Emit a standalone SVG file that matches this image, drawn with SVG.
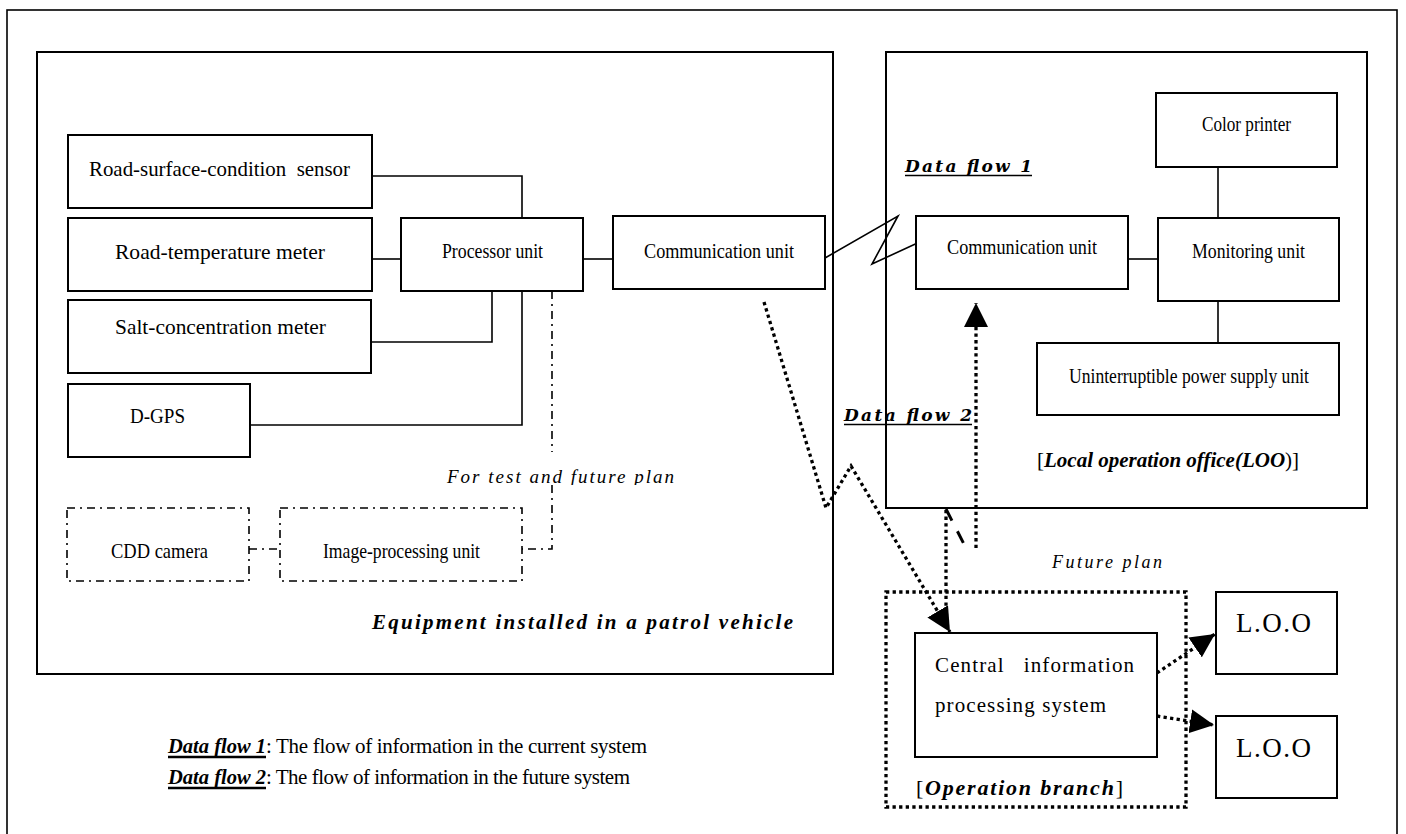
<svg xmlns="http://www.w3.org/2000/svg" width="1406" height="834" viewBox="0 0 1406 834" xml:space="preserve">
<style>
text{white-space:pre}
.box{fill:#fff;stroke:#000;stroke-width:2}
.frame{fill:none;stroke:#000;stroke-width:1.6}
.test{fill:#fff;stroke:#000;stroke-width:1.6;stroke-dasharray:8 5 2 5}
.ln{fill:none;stroke:#000;stroke-width:1.6}
.dd{fill:none;stroke:#000;stroke-width:1.6;stroke-dasharray:8 5 2 5}
.dot{fill:none;stroke:#000;stroke-width:3.3;stroke-dasharray:3.3 3.3}
.lbl{font-family:"Liberation Serif",serif;font-size:22px;fill:#000}
.bi{font-family:"Liberation Serif",serif;font-weight:bold;font-style:italic;fill:#000}
.it{font-family:"Liberation Serif",serif;font-style:italic;fill:#000}
.df{font-family:"DejaVu Serif",serif;font-weight:bold;font-style:italic;font-size:17px;fill:#000}
.tx{font-family:"Liberation Serif",serif;fill:#000}
</style>
<defs>
<marker id="ah" markerUnits="userSpaceOnUse" markerWidth="24" markerHeight="24" refX="24" refY="12" orient="auto" viewBox="0 0 24 24"><path d="M0,0 L24,12 L0,24 z" fill="#000"/></marker>
<clipPath id="clipFT"><rect x="440" y="460" width="250" height="25"/></clipPath>
</defs>
<rect id="outer-frame" class="frame" x="7" y="10" width="1390" height="840"/>
<g id="vehicle">
<rect class="box" x="37" y="52" width="796" height="622"/>
<text class="bi" x="372" y="629" font-size="21" textLength="421" lengthAdjust="spacing">Equipment installed in a patrol vehicle</text>
</g>
<g id="loo">
<rect class="box" x="886" y="52" width="481" height="456"/>
<text class="tx" x="1037" y="467" font-size="21">[<tspan class="bi">Local operation office(LOO</tspan>)]</text>
</g>
<g id="connectors">
<path class="ln" d="M372,176 H522 V218"/>
<path class="ln" d="M372,259 H401"/>
<path class="ln" d="M583,259 H613"/>
<path class="ln" d="M371,342 H492 V291"/>
<path class="ln" d="M250,425 H522 V291"/>
<path class="dd" d="M552,291 V452"/>
<path class="dd" d="M552,485 V549 H522"/>
<path class="dd" d="M249,549 H280"/>
<path class="ln" d="M825,258 L898,216 L872,264 L924,240"/>
<path class="ln" d="M1128,259 H1158"/>
<path class="ln" d="M1218,167 V218"/>
<path class="ln" d="M1218,301 V343"/>
<path class="dot" d="M764,302 L826,508 L851,466 L950,632" marker-end="url(#ah)"/>
<path class="dot" d="M946,510 V607"/>
<path fill="none" stroke="#000" stroke-width="3" stroke-dasharray="13 12" d="M946,509 L966,548"/>
<path class="dot" d="M976,548 V303" marker-end="url(#ah)"/>
<path class="dot" d="M1157,673 L1215,634" marker-end="url(#ah)"/>
<path class="dot" d="M1157,716 L1214,725" marker-end="url(#ah)"/>
</g>
<g id="sensor-road-surface">
<rect class="box" x="68" y="135" width="304" height="73"/>
<text class="lbl" x="89" y="176" textLength="261" lengthAdjust="spacingAndGlyphs">Road-surface-condition  sensor</text>
</g>
<g id="sensor-road-temp">
<rect class="box" x="68" y="218" width="304" height="73"/>
<text class="lbl" x="115" y="259" textLength="210" lengthAdjust="spacingAndGlyphs">Road-temperature meter</text>
</g>
<g id="sensor-salt">
<rect class="box" x="68" y="300" width="303" height="73"/>
<text class="lbl" x="115" y="334" textLength="211" lengthAdjust="spacingAndGlyphs">Salt-concentration meter</text>
</g>
<g id="dgps">
<rect class="box" x="68" y="384" width="182" height="73"/>
<text class="lbl" x="130" y="423" textLength="55" lengthAdjust="spacingAndGlyphs">D-GPS</text>
</g>
<g id="processor">
<rect class="box" x="401" y="218" width="182" height="73"/>
<text class="lbl" x="442" y="258" textLength="101" lengthAdjust="spacingAndGlyphs">Processor unit</text>
</g>
<g id="comm-vehicle">
<rect class="box" x="613" y="216" width="212" height="73"/>
<text class="lbl" x="644" y="258" textLength="150" lengthAdjust="spacingAndGlyphs">Communication unit</text>
</g>
<g id="cdd-camera">
<rect class="test" x="67" y="508" width="182" height="73"/>
<text class="lbl" x="111" y="558" textLength="97" lengthAdjust="spacingAndGlyphs">CDD camera</text>
</g>
<g id="image-processing">
<rect class="test" x="280" y="508" width="242" height="73"/>
<text class="lbl" x="323" y="558" textLength="157" lengthAdjust="spacingAndGlyphs">Image-processing unit</text>
</g>
<text class="it" x="447" y="483" font-size="19" textLength="227" lengthAdjust="spacing" clip-path="url(#clipFT)">For test and future plan</text>
<g id="comm-loo">
<rect class="box" x="916" y="216" width="212" height="73"/>
<text class="lbl" x="947" y="254" textLength="150" lengthAdjust="spacingAndGlyphs">Communication unit</text>
</g>
<g id="monitoring">
<rect class="box" x="1158" y="218" width="181" height="83"/>
<text class="lbl" x="1192" y="258" textLength="113" lengthAdjust="spacingAndGlyphs">Monitoring unit</text>
</g>
<g id="color-printer">
<rect class="box" x="1156" y="93" width="181" height="74"/>
<text class="lbl" x="1202" y="131" textLength="89" lengthAdjust="spacingAndGlyphs">Color printer</text>
</g>
<g id="ups">
<rect class="box" x="1037" y="343" width="302" height="72"/>
<text class="lbl" x="1069" y="383" textLength="240" lengthAdjust="spacingAndGlyphs">Uninterruptible power supply unit</text>
</g>
<g id="label-df1">
<text class="df" x="905" y="172" textLength="127" lengthAdjust="spacing">Data flow 1</text>
<line x1="905" y1="175.5" x2="1032" y2="175.5" stroke="#000" stroke-width="1.5"/>
</g>
<g id="label-df2">
<text class="df" x="844" y="421" textLength="128" lengthAdjust="spacing">Data flow 2</text>
<line x1="844" y1="424.5" x2="972" y2="424.5" stroke="#000" stroke-width="1.5"/>
</g>
<g id="operation-branch">
<text class="it" x="1052" y="568" font-size="18" textLength="110" lengthAdjust="spacing">Future plan</text>
<rect class="dot" x="886" y="592" width="300" height="215"/>
<text class="tx" x="916" y="795" font-size="22" textLength="207" lengthAdjust="spacing">[<tspan class="bi">Operation branch</tspan>]</text>
</g>
<g id="central">
<rect class="box" x="915" y="633" width="242" height="124"/>
<text class="tx" x="935" y="672" font-size="21" textLength="199" lengthAdjust="spacing">Central   information</text>
<text class="tx" x="935" y="712" font-size="21" textLength="171" lengthAdjust="spacing">processing system</text>
</g>
<g id="loo-1">
<rect class="box" x="1216" y="592" width="121" height="82"/>
<text class="tx" x="1236" y="632" font-size="27" textLength="75" lengthAdjust="spacing">L.O.O</text>
</g>
<g id="loo-2">
<rect class="box" x="1216" y="716" width="121" height="82"/>
<text class="tx" x="1236" y="757" font-size="27" textLength="75" lengthAdjust="spacing">L.O.O</text>
</g>
<g id="legend">
<text class="bi" x="168" y="753" font-size="21" textLength="98" lengthAdjust="spacingAndGlyphs">Data flow 1</text>
<line x1="168" y1="757" x2="266" y2="757" stroke="#000" stroke-width="2.5"/>
<text class="tx" x="266" y="753" font-size="21" textLength="381" lengthAdjust="spacing">: The flow of information in the current system</text>
<text class="bi" x="168" y="784" font-size="21" textLength="98" lengthAdjust="spacingAndGlyphs">Data flow 2</text>
<line x1="168" y1="788" x2="266" y2="788" stroke="#000" stroke-width="2.5"/>
<text class="tx" x="266" y="784" font-size="21" textLength="364" lengthAdjust="spacing">: The flow of information in the future system</text>
</g>
</svg>
